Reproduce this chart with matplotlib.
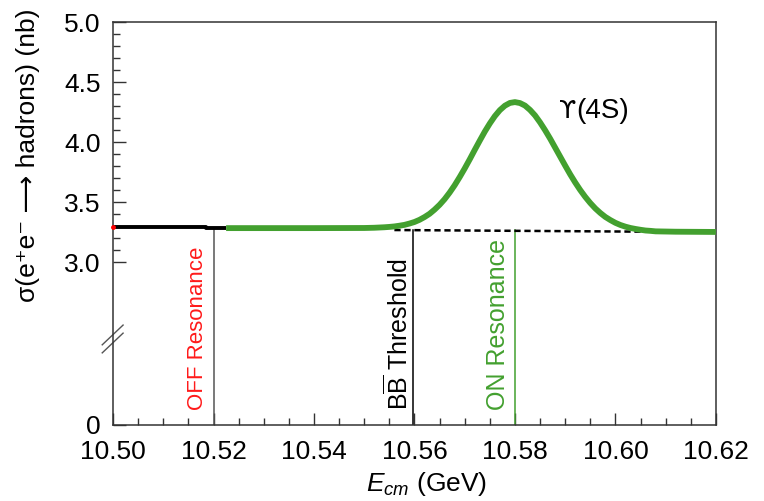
import numpy as np
import matplotlib
matplotlib.use("Agg")
import matplotlib.pyplot as plt
from matplotlib.ticker import FixedLocator, FixedFormatter

plt.rcParams['font.family'] = ['Liberation Sans', 'DejaVu Sans']
plt.rcParams['mathtext.fontset'] = 'custom'
plt.rcParams['mathtext.rm'] = 'Liberation Sans'
plt.rcParams['mathtext.it'] = 'Liberation Sans:italic'

GREEN = '#43a02f'

# off-resonance scan (black), energies in GeV, cross section in nb
off_x = [10.500, 10.5185, 10.5185, 10.5225]
off_y = [3.290, 3.290, 3.283, 3.283]

# Upsilon(4S) line shape
res_x = [10.5225, 10.540, 10.550,
         10.552, 10.553, 10.554, 10.555, 10.556, 10.557, 10.558, 10.559,
         10.560, 10.561, 10.562, 10.563, 10.564, 10.565, 10.566, 10.567,
         10.568, 10.569, 10.570, 10.571, 10.572, 10.573, 10.574, 10.575,
         10.576, 10.577, 10.578, 10.579, 10.580, 10.581, 10.582, 10.583,
         10.584, 10.585, 10.586, 10.587, 10.588, 10.589, 10.590, 10.591,
         10.592, 10.593, 10.594, 10.595, 10.596, 10.597, 10.598, 10.599,
         10.600, 10.601, 10.602, 10.603, 10.604, 10.605, 10.606, 10.607,
         10.608, 10.612, 10.620]
res_y = [3.283, 3.283, 3.284,
         3.286, 3.288, 3.290, 3.293, 3.297, 3.303, 3.310, 3.321,
         3.334, 3.352, 3.375, 3.402, 3.437, 3.477, 3.524, 3.579,
         3.640, 3.708, 3.780, 3.856, 3.935, 4.012, 4.087, 4.155,
         4.216, 4.266, 4.303, 4.326, 4.333, 4.325, 4.304, 4.268,
         4.222, 4.164, 4.099, 4.029, 3.954, 3.879, 3.804, 3.731,
         3.663, 3.600, 3.543, 3.492, 3.447, 3.409, 3.376, 3.350,
         3.327, 3.309, 3.295, 3.284, 3.276, 3.269, 3.263, 3.260,
         3.256, 3.253, 3.251]

# continuum under the peak (dashed)
cont_x = [10.556, 10.607]
cont_y = [3.267, 3.253]

# marker lines
marks_x = [10.52, 10.5598, 10.58]
marks_top = [3.283, 3.270, 3.265]
marks_col = ['#555555', 'black', GREEN]
marks_txt = ['OFF Resonance', r'B$\overline{\mathrm{B}}$ Threshold', 'ON Resonance']
marks_txt_x = [10.5169, 10.5567, 10.5766]
marks_txt_col = ['#ff1a1a', 'black', GREEN]
marks_txt_size = [16, 18, 18]

yticks = [0, 3.0, 3.5, 4.0, 4.5, 5.0]
ytick_labels = ['0', '3.0', '3.5', '4.0', '4.5', '5.0']
yminor = [3.1, 3.2, 3.3, 3.4, 3.6, 3.7, 3.8, 3.9, 4.1, 4.2, 4.3, 4.4,
          4.6, 4.7, 4.8, 4.9]
xticks = [10.50, 10.52, 10.54, 10.56, 10.58, 10.60, 10.62]

# broken y axis: squeeze everything below Y0
Y0 = 2.5
K = 0.343

def fwd(y):
    y = np.asarray(y, dtype=float)
    return np.where(y >= Y0, y, Y0 - (Y0 - y) * K)

def inv(y):
    y = np.asarray(y, dtype=float)
    return np.where(y >= Y0, y, Y0 - (Y0 - y) / K)

fig = plt.figure(figsize=(7.64, 5.01), dpi=100)
ax = fig.add_axes([0.148, 0.1517, 0.789, 0.8043])
ax.set_yscale('function', functions=(fwd, inv))

for x, top, c in zip(marks_x, marks_top, marks_col):
    ax.plot([x, x], [0, top], color=c, lw=1.1, zorder=2)

ax.plot(off_x, off_y, color='black', lw=2.8, solid_capstyle='butt', zorder=3)
ax.plot(off_x[:1], off_y[:1], 'o', color='red', ms=2.5, zorder=4, clip_on=False)
ax.plot(cont_x, cont_y, color='black', lw=1.8, ls=(0, (2.5, 1.5)), zorder=3)
ax.plot(res_x, res_y, color=GREEN, lw=4.2, solid_capstyle='butt',
        solid_joinstyle='round', zorder=4)

tr = ax.get_xaxis_transform()
for x, t, c, s in zip(marks_txt_x, marks_txt, marks_txt_col, marks_txt_size):
    ax.text(x, 0.037, t, transform=tr, rotation=90, ha='center', va='bottom',
            color=c, fontsize=s)

# Upsilon(4S) label: the symbol from DejaVu, the rest in Liberation
ax.text(10.5922, 4.258, '\u03d2', fontsize=18, ha='right', va='center',
        family='DejaVu Sans')
ax.text(10.5922, 4.258, '(4S)', fontsize=20, ha='left', va='center')

ax.set_xlim(10.50, 10.62)
ax.set_ylim(0, 5.0)

ax.xaxis.set_major_locator(FixedLocator(xticks))
ax.xaxis.set_minor_locator(FixedLocator(list(np.arange(10.505, 10.62, 0.005))))
ax.set_xticklabels(['%.2f' % v for v in xticks])
ax.yaxis.set_major_locator(FixedLocator(yticks))
ax.yaxis.set_major_formatter(FixedFormatter(ytick_labels))
ax.yaxis.set_minor_locator(FixedLocator(yminor))

ax.tick_params(which='both', direction='in', top=False, right=False,
               color='#333333', labelsize=19)
ax.tick_params(which='major', length=9, width=1)
ax.tick_params(which='minor', length=5, width=1)
ax.tick_params(axis='x', pad=11)
ax.tick_params(axis='y', pad=9)
for sp in ax.spines.values():
    sp.set_color('#333333')
    sp.set_linewidth(1.1)

ax.set_xlabel(r'$E_{cm}$ (GeV)', fontsize=19)
ax.xaxis.set_label_coords(0.52, -0.112)
ax.set_ylabel('σ(e\u207ae\u207b \u27f6 hadrons) (nb)', fontsize=19)
ax.yaxis.set_label_coords(-0.121, 0.67)

# axis break marks
for dy in (0.0, 0.02):
    ax.plot([-0.018, 0.0166], [0.179 + dy, 0.228 + dy], transform=ax.transAxes,
            color='#555555', lw=1, clip_on=False)

fig.savefig('out.png', dpi=100)
